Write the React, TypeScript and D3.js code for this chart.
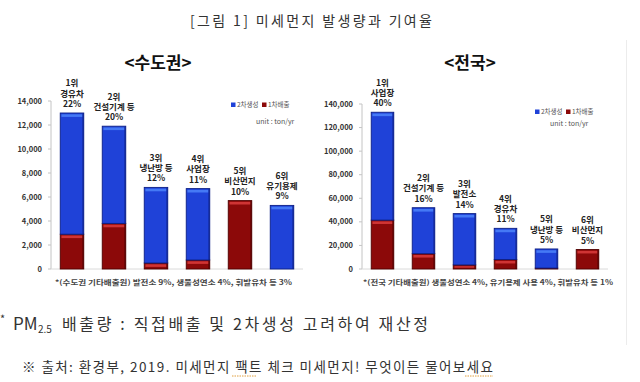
import React from "react";
import * as d3 from "d3";

const FONT = '"Noto Sans CJK KR", "Noto Sans", sans-serif';

// ---- 수도권 data ----
const metroRanks = ["1위", "2위", "3위", "4위", "5위", "6위"];
const metroNames = ["경유차", "건설기계 등", "냉난방 등", "사업장", "비산먼지", "유기용제"];
const metroShares = ["22%", "20%", "12%", "11%", "10%", "9%"];
const metroPrimary = [2900, 3800, 500, 750, 5700, 0];
const metroSecondary = [10100, 8100, 6300, 5950, 0, 5300];
const metroTicks = [0, 2000, 4000, 6000, 8000, 10000, 12000, 14000];

// ---- 전국 data ----
const nationRanks = ["1위", "2위", "3위", "4위", "5위", "6위"];
const nationNames = ["사업장", "건설기계 등", "발전소", "경유차", "냉난방 등", "비산먼지"];
const nationShares = ["40%", "16%", "14%", "11%", "5%", "5%"];
const nationPrimary = [41500, 13000, 3500, 8000, 800, 16500];
const nationSecondary = [91500, 39000, 43500, 26500, 16200, 0];
const nationTicks = [0, 20000, 40000, 60000, 80000, 100000, 120000, 140000];

const legendLabels = ["2차생성", "1차배출"];
const unitLabel = "unit : ton/yr";

const COLORS: Record<string, { main: string; dark: string; light: string }> = {
  secondary: { main: "#1f42d8", dark: "#0c1f86", light: "#4579f5" },
  primary: { main: "#8c0909", dark: "#4f0000", light: "#cf3434" },
};

type PanelProps = {
  ranks: string[];
  names: string[];
  shares: string[];
  primary: number[];
  secondary: number[];
  ticks: number[];
  xRange: [number, number];
  yRange: [number, number];
  padInner: number;
  legendX: number;
  legendY: number;
  unitX: number;
  unitY: number;
  footnote: string;
  footX: number;
  footLen: number;
};

function Panel(p: PanelProps) {
  const rows = p.names.map((n, i) => ({
    name: n,
    primary: p.primary[i],
    secondary: p.secondary[i],
  }));
  const x = d3
    .scaleBand<string>()
    .domain(p.names)
    .range(p.xRange)
    .paddingInner(p.padInner)
    .paddingOuter(p.padInner / 2);
  const y = d3
    .scaleLinear()
    .domain([0, p.ticks[p.ticks.length - 1]])
    .range(p.yRange);
  const stack = d3.stack<any>().keys(["primary", "secondary"]);
  const series = stack(rows);
  const fmt = d3.format(",");
  const axisX = p.xRange[0];
  const bw = x.bandwidth();

  return (
    <g>
      {/* axis */}
      <line x1={axisX} x2={axisX} y1={p.yRange[1]} y2={p.yRange[0]} stroke="#c4c4c4" strokeWidth={1} />
      <line x1={axisX} x2={p.xRange[1]} y1={p.yRange[0]} y2={p.yRange[0]} stroke="#dadada" strokeWidth={1} />
      {p.ticks.map((t) => (
        <g key={t}>
          <line x1={axisX - 3} x2={axisX} y1={y(t)} y2={y(t)} stroke="#c4c4c4" />
          <text
            x={axisX - 9}
            y={y(t)}
            dy="0.35em"
            textAnchor="end"
            fontFamily={FONT}
            fontWeight={700}
            fontSize={7.5}
            fill="#333"
          >
            {fmt(t)}
          </text>
        </g>
      ))}
      {/* bars */}
      {series.map((s) =>
        s.map((d: any, i: number) => {
          const y0 = y(d[0]);
          const y1 = y(d[1]);
          const h = y0 - y1;
          if (h <= 0.5) return null;
          const c = COLORS[s.key];
          const bx = x(rows[i].name)!;
          return (
            <g key={s.key + i}>
              <rect x={bx} y={y1} width={bw} height={h} fill={c.main} stroke={c.dark} strokeWidth={0.9} />
              {h > 4 && (
                <rect x={bx + 1.2} y={y1 + 1.3} width={bw - 2.4} height={Math.min(2.6, h - 2.6)} fill={c.light} />
              )}
              <rect x={bx + bw - 1.6} y={y1 + 0.5} width={1.6} height={h - 0.5} fill={c.dark} opacity={0.55} />
            </g>
          );
        })
      )}
      {/* labels */}
      {rows.map((r, i) => {
        const top = y(r.primary + r.secondary);
        const cx = x(r.name)! + bw / 2;
        const lines = [p.ranks[i], r.name, p.shares[i]];
        return (
          <g key={"l" + i}>
            {lines.map((t, j) => (
              <text
                key={j}
                x={cx}
                y={top - 6 - (2 - j) * 10.3}
                textAnchor="middle"
                fontFamily={FONT}
                fontWeight={700}
                fontSize={8.5}
                fill="#222"
              >
                {t}
              </text>
            ))}
          </g>
        );
      })}
      {/* legend */}
      {legendLabels.map((l, i) => (
        <g key={l} transform={`translate(${p.legendX + i * 31},${p.legendY})`}>
          <rect x={0} y={-2.5} width={4.5} height={4.5} fill={i === 0 ? COLORS.secondary.main : COLORS.primary.main} />
          <text x={6} y={0} dy="0.35em" fontFamily={FONT} fontSize={6.5} fill="#555">
            {l}
          </text>
        </g>
      ))}
      <text x={p.unitX} y={p.unitY} dy="0.35em" fontFamily={FONT} fontSize={7} fill="#555">
        {unitLabel}
      </text>
      <text
        x={p.footX}
        y={283}
        dy="0.35em"
        fontFamily={FONT}
        fontWeight={700}
        fontSize={6.8}
        fill="#444"
        textLength={p.footLen}
        lengthAdjust="spacingAndGlyphs"
      >
        {p.footnote}
      </text>
    </g>
  );
}

export default function App() {
  return (
    <svg
      width={640}
      height={382}
      style={{ position: "absolute", left: 0, top: 0, background: "#fff" }}
    >
      <rect width={640} height={382} fill="#fff" />
      <line x1={626.5} x2={626.5} y1={40} y2={345} stroke="#ececec" />
      <text
        x={311}
        y={26}
        textAnchor="middle"
        fontFamily={FONT}
        fontSize={14}
        fill="#333"
        textLength={242}
        lengthAdjust="spacing"
      >
        [그림 1] 미세먼지 발생량과 기여율
      </text>
      <text x={158} y={69} textAnchor="middle" fontFamily={FONT} fontWeight={700} fontSize={17} fill="#111">
        {"<수도권>"}
      </text>
      <text x={470} y={69} textAnchor="middle" fontFamily={FONT} fontWeight={700} fontSize={17} fill="#111">
        {"<전국>"}
      </text>
      <Panel
        ranks={metroRanks}
        names={metroNames}
        shares={metroShares}
        primary={metroPrimary}
        secondary={metroSecondary}
        ticks={metroTicks}
        xRange={[51, 303]}
        yRange={[269, 101]}
        padInner={0.44}
        legendX={231}
        legendY={105}
        unitX={256}
        unitY={122}
        footnote="*(수도권 기타배출원) 발전소 9%, 생물성연소 4%, 휘발유차 등 3%"
        footX={55}
        footLen={237}
      />
      <Panel
        ranks={nationRanks}
        names={nationNames}
        shares={nationShares}
        primary={nationPrimary}
        secondary={nationSecondary}
        ticks={nationTicks}
        xRange={[362, 608]}
        yRange={[269, 104]}
        padInner={0.45}
        legendX={535}
        legendY={112}
        unitX={550}
        unitY={124}
        footnote="*(전국 기타배출원) 생물성연소 4%, 유기용제 사용 4%, 휘발유차 등 1%"
        footX={363}
        footLen={250}
      />
      {/* notes */}
      <text x={0} y={323} fontFamily={FONT} fontSize={11} fill="#333">*</text>
      <text x={13} y={330} fontFamily={FONT} fontSize={17} fill="#333">PM</text>
      <text x={38} y={333} fontFamily={FONT} fontSize={10} fill="#333">2.5</text>
      <text
        x={62}
        y={330}
        fontFamily={FONT}
        fontSize={16}
        fill="#333"
        textLength={366}
        lengthAdjust="spacing"
      >
        배출량 : 직접배출 및 2차생성 고려하여 재산정
      </text>
      <text
        x={22}
        y={372}
        fontFamily={FONT}
        fontSize={13.5}
        fill="#333"
        textLength={471}
        lengthAdjust="spacing"
      >
        ※ 출처: 환경부, 2019. 미세먼지 팩트 체크 미세먼지! 무엇이든 물어보세요
      </text>
      <line x1={232} x2={257} y1={376} y2={376} stroke="#e0a040" strokeWidth={1} strokeDasharray="1.5,1" />
      <line x1={465} x2={493} y1={376} y2={376} stroke="#e0a040" strokeWidth={1} strokeDasharray="1.5,1" />
    </svg>
  );
}
